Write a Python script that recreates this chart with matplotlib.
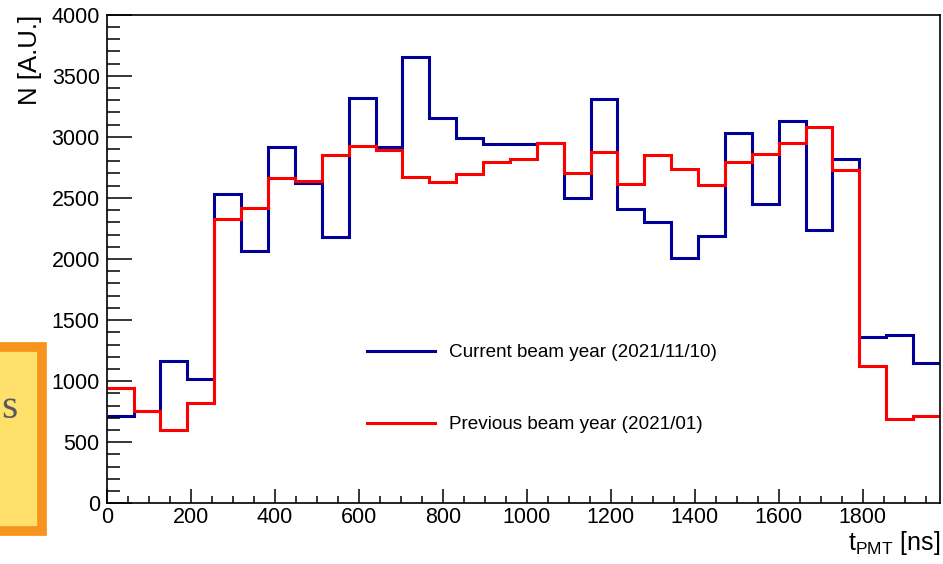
import numpy as np
import matplotlib
matplotlib.use("Agg")
import matplotlib.pyplot as plt
from matplotlib.patches import Rectangle
from matplotlib.ticker import MultipleLocator

plt.rcParams['font.family'] = ['Liberation Sans', 'DejaVu Sans']
plt.rcParams['mathtext.default'] = 'regular'

# 31 bins of 64 ns, 0 .. 1984 ns
bin_width = 64
n_bins = 31
edges = np.arange(n_bins + 1) * bin_width

# current beam year (2021/11/10), blue
current = [715, 752, 1165, 1018, 2532, 2068, 2920, 2622, 2183, 3316,
           2920, 3651, 3152, 2988, 2939, 2939, 2952, 2502, 3310, 2409,
           2306, 2011, 2188, 3029, 2453, 3132, 2238, 2816, 1359, 1375, 1146]
# previous beam year (2021/01), red
previous = [941, 756, 600, 824, 2330, 2418, 2666, 2636, 2849, 2925,
            2893, 2674, 2633, 2696, 2792, 2816, 2947, 2702, 2874, 2612,
            2849, 2734, 2606, 2794, 2862, 2947, 3078, 2729, 1124, 688, 715]

label_current = "Current beam year (2021/11/10)"
label_previous = "Previous beam year (2021/01)"

W, H = 943, 564
fig = plt.figure(figsize=(W / 100, H / 100), dpi=100)
ax = fig.add_axes([106.7 / W, 1 - 503.3 / H, (940 - 106.7) / W, (503.3 - 14.7) / H])

ax.stairs(current, edges, baseline=None, color='#000099', lw=2.2, label=label_current)
ax.stairs(previous, edges, baseline=None, color='#ff0000', lw=2.2, label=label_previous)

ax.set_xlim(0, edges[-1])
ax.set_ylim(0, 4000)

ax.xaxis.set_major_locator(MultipleLocator(200))
ax.xaxis.set_minor_locator(MultipleLocator(50))
ax.yaxis.set_major_locator(MultipleLocator(500))
ax.yaxis.set_minor_locator(MultipleLocator(100))
ax.tick_params(axis='x', which='major', direction='in', length=10, width=1.1,
               labelsize=15.5, pad=3, top=False)
ax.tick_params(axis='x', which='minor', direction='in', length=5, width=1.1, top=False)
ax.tick_params(axis='y', which='major', direction='in', length=18, width=1.1,
               labelsize=15.5, pad=5, right=False)
ax.tick_params(axis='y', which='minor', direction='in', length=9, width=1.1, right=False)
for s in ax.spines.values():
    s.set_linewidth(1.2)

leg = ax.legend(loc='upper left', bbox_to_anchor=(0.312, 0.326), frameon=False,
                fontsize=13.6, handlelength=3.6, handletextpad=0.75,
                labelspacing=2.9, borderpad=0, borderaxespad=0)
for h in leg.legend_handles:
    h.set_linewidth(2.2)

fig.text(30 / W, 1 - 15 / H, "N [A.U.]", rotation=90, ha='center', va='top', fontsize=18.5)
fig.text(940 / W, 1 - 550 / H, r"$t_{PMT}$ [ns]", ha='right', va='baseline', fontsize=18)

# slide decoration cut at the left edge
box = Rectangle((-10 / W, 1 - 531 / H), 52 / W, (531 - 347) / H, transform=fig.transFigure,
                facecolor='#ffe06b', edgecolor='#f7941d', lw=7, zorder=0)
fig.patches.append(box)
fig.text(1 / W, 1 - 418 / H, "s", family='Liberation Serif', fontsize=30,
         color='#555a60', ha='left', va='baseline')

fig.savefig("out.png", dpi=100)
